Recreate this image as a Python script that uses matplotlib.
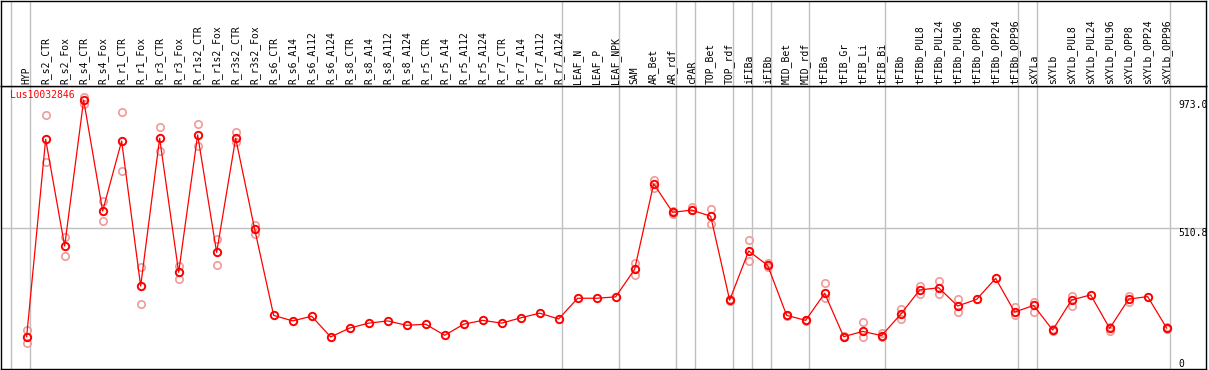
import numpy as np
import matplotlib
matplotlib.use("Agg")
import matplotlib.pyplot as plt

# sample names along the top
samples = ["HYP", "R_s2_CTR", "R_s2_Fox", "R_s4_CTR", "R_s4_Fox", "R_r1_CTR", "R_r1_Fox",
           "R_r3_CTR", "R_r3_Fox", "R_r1s2_CTR", "R_r1s2_Fox", "R_r3s2_CTR", "R_r3s2_Fox",
           "R_s6_CTR", "R_s6_A14", "R_s6_A112", "R_s6_A124",
           "R_s8_CTR", "R_s8_A14", "R_s8_A112", "R_s8_A124",
           "R_r5_CTR", "R_r5_A14", "R_r5_A112", "R_r5_A124",
           "R_r7_CTR", "R_r7_A14", "R_r7_A112", "R_r7_A124",
           "LEAF_N", "LEAF_P", "LEAF_NPK", "SAM", "AR_Bet", "AR_rdf", "cPAR",
           "TOP_Bet", "TOP_rdf", "iFIBa", "iFIBb", "MID_Bet", "MID_rdf",
           "tFIBa", "tFIB_Gr", "tFIB_Li", "tFIB_Bi", "tFIBb",
           "tFIBb_PUL8", "tFIBb_PUL24", "tFIBb_PUL96", "tFIBb_OPP8", "tFIBb_OPP24", "tFIBb_OPP96",
           "sXYLa", "sXYLb",
           "sXYLb_PUL8", "sXYLb_PUL24", "sXYLb_PUL96", "sXYLb_OPP8", "sXYLb_OPP24", "sXYLb_OPP96"]

# mean expression (line)
mean_vals = [117, 831, 445, 973, 572, 825, 300, 835, 350, 847, 422, 835, 506,
             194, 174, 191, 116, 148, 166, 174, 158, 162, 122, 162, 176,
             166, 185, 202, 181, 256, 256, 261, 361, 670, 567, 575,
             553, 249, 427, 375, 194, 176, 274, 117, 136, 121, 198,
             286, 294, 228, 252, 328, 206, 230, 141,
             250, 268, 147, 253, 262, 148]

# replicate values (None = hidden behind the mean)
rep_hi = [141, 919, 479, 985, 608, 929, 370, 875, 374, 886, 469, 857, 521,
          None, None, None, None, None, None, None, None, None, None, None, None,
          None, None, None, None, None, None, None, 385, 684, 572, 587,
          578, 252, 466, 383, 197, 178, 310, 119, 171, 131, 217,
          300, 318, 253, None, None, 225, 244, 145,
          264, None, 152, 264, None, 152]
rep_lo = [93, 750, 410, 960, 536, 717, 234, 790, 325, 807, 376, 820, 489,
          None, None, None, None, None, None, None, None, None, None, None, None,
          None, None, None, None, None, None, None, 340, 654, 562, 575,
          524, 246, 391, 368, 191, 174, 256, 115, 117, 115, 181,
          271, 270, 205, None, None, 195, 205, 136,
          229, None, 138, 242, None, 144]

# index of last sample in each group (separator drawn just after it)
group_ends = [-1, 0, 28, 31, 34, 35, 37, 38, 39, 41, 45, 52, 53, 60]
gene = "Lus10032846"
y_marks = [973.0, 510.8]

mono = "DejaVu Sans Mono"
grid_c = "#c0c0c0"
W, H = 1209, 370

fig = plt.figure(figsize=(W / 100, H / 100), dpi=100)
left, right = 1 / W, 1206 / W
plot_top, plot_bot = (H - 86) / H, (H - 369) / H
head_top = (H - 1) / H
ax = fig.add_axes([left, plot_bot, right - left, plot_top - plot_bot])
axh = fig.add_axes([left, plot_top, right - left, head_top - plot_top], sharex=ax)

x = np.arange(len(samples))
ax.set_xlim(-1.35, 62.07)
ax.set_ylim(0, 1024)
axh.set_ylim(0, 1)

for a in (ax, axh):
    a.set_xticks([])
    a.set_yticks([])
    for s in a.spines.values():
        s.set_color("black")
        s.set_linewidth(1.0)
    for g in group_ends:
        a.axvline(g + 0.2, color=grid_c, lw=1.0, zorder=0)

ax.axhline(y_marks[1], color=grid_c, lw=1.0, zorder=0)

# header labels
for xi, lab in zip(x, samples):
    axh.text(xi, 0.02, lab, rotation=90, ha="center", va="bottom",
             fontsize=7, family=mono)

# replicates
rh = np.array([np.nan if v is None else v for v in rep_hi], dtype=float)
rl = np.array([np.nan if v is None else v for v in rep_lo], dtype=float)
for r in (rh, rl):
    ax.plot(x, r, "o", ms=5.3, mfc="none", mec="#f09a9a", mew=1.2, zorder=2)

# mean line
ax.plot(x, mean_vals, color="red", lw=0.9, marker="o", ms=5.3, mfc="none",
        mec="red", mew=1.4, zorder=3)

ax.text(0.0075, 0.985, gene, transform=ax.transAxes, color="red",
        fontsize=7, family=mono, ha="left", va="top")

# right side scale labels
tr = ax.get_yaxis_transform()
ax.text(0.977, y_marks[0], f"{y_marks[0]:.1f}", transform=tr, fontsize=7,
        family=mono, ha="left", va="top")
ax.text(0.977, y_marks[1], f"{y_marks[1]:.1f}", transform=tr, fontsize=7,
        family=mono, ha="left", va="top")
ax.text(0.977, 0, "0", transform=tr, fontsize=7, family=mono,
        ha="left", va="bottom")

fig.savefig("out.png", dpi=100)
